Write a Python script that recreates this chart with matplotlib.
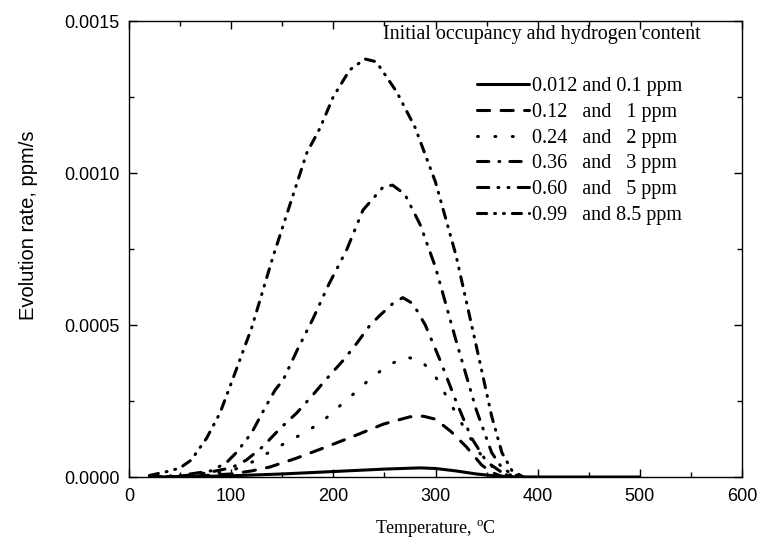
import matplotlib
matplotlib.use("Agg")
import matplotlib.pyplot as plt
import numpy as np

# ---- data ----
labels = ["0.012 and 0.1 ppm", "0.12   and   1 ppm", "0.24   and   2 ppm",
          "0.36   and   3 ppm", "0.60   and   5 ppm", "0.99   and 8.5 ppm"]

t_a = [20, 60, 100, 150, 200, 250, 285, 300, 320, 340, 360, 380, 400, 450, 500]
r_a = [0.0, 0.000001, 0.000004, 0.00001, 0.000018, 0.000026, 0.00003, 0.000028,
       0.00002, 0.00001, 0.000003, 0.0000005, 0.0, 0.0, 0.0]

t_b = [20, 60, 100, 120, 138, 164, 190, 219, 249, 275, 288, 300, 315, 330, 345, 355, 365, 380]
r_b = [0.0, 0.000002, 0.00001, 0.00002, 0.000033, 0.000062, 0.000095, 0.000133, 0.000174,
       0.000198, 0.0002, 0.00019, 0.00015, 0.0001, 0.00004, 0.000015, 0.000002, 0.0]

t_c = [20, 50, 80, 100, 121, 138, 154, 172, 189, 205, 221, 237, 254, 271, 286, 300, 315,
       330, 345, 360, 375]
r_c = [0.0, 0.000002, 0.00001, 0.00002, 0.00005, 0.000083, 0.000114, 0.000146, 0.000182,
       0.00023, 0.000277, 0.000326, 0.000368, 0.000395, 0.000383, 0.00033, 0.00024,
       0.00015, 0.00007, 0.00002, 0.0]

t_d = [20, 50, 70, 100, 115, 131, 148, 164, 180, 190, 210, 223, 236, 246, 258, 268, 278,
       290, 305, 320, 335, 350, 365, 380]
r_d = [0.0, 0.000003, 0.00001, 0.00003, 0.000056, 0.0001, 0.00016, 0.00021, 0.00027,
       0.00031, 0.000385, 0.00044, 0.0005, 0.000533, 0.00057, 0.00059, 0.00057, 0.0005,
       0.00038, 0.00025, 0.00013, 0.00005, 0.000015, 0.0]

t_e = [20, 50, 80, 95, 105, 120, 133, 143, 151, 165, 180, 195, 213, 229, 249, 258, 270,
       285, 300, 320, 340, 355, 365, 375, 385]
r_e = [0.0, 0.000005, 0.00002, 0.000046, 0.00008, 0.000145, 0.000227, 0.000286, 0.00032,
       0.00042, 0.00052, 0.00063, 0.000747, 0.000878, 0.000955, 0.00096, 0.00093, 0.00083,
       0.00069, 0.00045, 0.00022, 0.00008, 0.00003, 0.00001, 0.0]

t_f = [20, 40, 50, 61, 76, 89, 100, 120, 141, 159, 174, 187, 200, 216, 231, 242, 262,
       280, 300, 320, 340, 355, 365, 375, 385]
r_f = [0.000005, 0.00002, 0.00003, 0.000056, 0.000128, 0.00021, 0.000308, 0.00049, 0.000725,
       0.000911, 0.001066, 0.001148, 0.001251, 0.001339, 0.001375, 0.001366, 0.001267,
       0.00115, 0.00097, 0.00073, 0.00043, 0.0002, 0.00008, 0.00002, 0.000002]

series_t = [t_a, t_b, t_c, t_d, t_e, t_f]
series_r = [r_a, r_b, r_c, r_d, r_e, r_f]

x_ticks = [0, 100, 200, 300, 400, 500, 600]
y_ticks = [0.0, 0.0005, 0.0010, 0.0015]
y_ticklabels = ["0.0000", "0.0005", "0.0010", "0.0015"]

# ---- styles ----
plt.rcParams['mathtext.fontset'] = 'custom'
plt.rcParams['mathtext.rm'] = 'Liberation Serif'
styles = [
    '-',
    (0, (4.0, 3.7)),
    (0, (0.3, 5.4)),
    (0, (3.7, 3.3, 0.3, 3.3)),
    (0, (3.7, 3.0, 0.3, 3.0, 0.3, 3.0)),
    (0, (3.0, 2.6, 0.3, 2.6, 0.3, 2.6)),
]

fig = plt.figure(figsize=(7.6, 5.48), dpi=100)
ax = fig.add_axes([129/760, 1-477/548, (742-129)/760, (477-21)/548])

handles = []
for t, r, ls, lab in zip(series_t, series_r, styles, labels):
    h, = ax.plot(t, r, color='black', lw=2.2, linestyle=ls, label=lab,
                 dash_capstyle='round', solid_capstyle='round')
    handles.append(h)

ax.set_xlim(0, 600)
ax.set_ylim(0, 0.0015)
ax.set_xticks(x_ticks)
ax.set_xticklabels([str(v) for v in x_ticks])
ax.set_yticks(y_ticks)
ax.set_yticklabels(y_ticklabels)
ax.set_xticks(np.arange(50, 600, 100), minor=True)
ax.set_yticks([0.00025, 0.00075, 0.00125], minor=True)
ax.tick_params(which='both', direction='in', top=True, right=True, width=1.0)
ax.tick_params(which='major', length=6, labelsize=13)
ax.tick_params(axis='x', which='major', pad=8)
ax.tick_params(axis='y', which='major', pad=7)
ax.tick_params(which='minor', length=3.5)
for lab in ax.get_xticklabels() + ax.get_yticklabels():
    lab.set_family('Liberation Sans')
for s in ax.spines.values():
    s.set_linewidth(1.0)

ax.set_ylabel("Evolution rate, ppm/s", fontsize=14.5, family='Liberation Sans')
ax.yaxis.set_label_coords(-0.148, 0.553)
ax.set_xlabel(r"Temperature, $^{\mathrm{o}}$C", fontsize=13, family='Liberation Serif', labelpad=10)

fig.text(383/760, 1-35/548, "Initial occupancy and hydrogen content", fontsize=14.5,
         family='Liberation Serif', va='center', ha='left')

leg = ax.legend(handles=handles, loc='upper left', bbox_to_anchor=(477/760, 1-77/548),
                bbox_transform=fig.transFigure, frameon=False,
                prop={'family': 'Liberation Serif', 'size': 14.5},
                handlelength=2.6, handletextpad=0.15, labelspacing=0.33,
                borderpad=0, borderaxespad=0)

fig.savefig("out.png", dpi=100)
